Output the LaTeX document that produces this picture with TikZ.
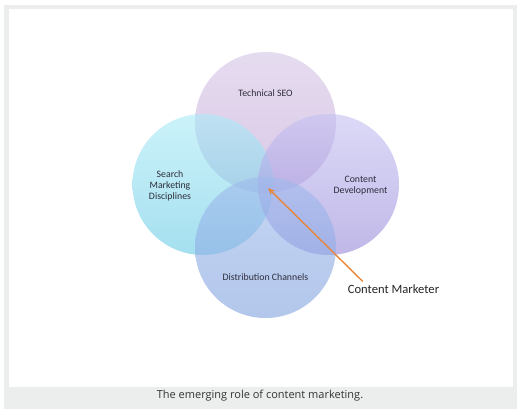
\documentclass[tikz,border=0pt]{standalone}
\usepackage{fontspec}
\setmainfont{Carlito}
\newfontfamily\capfont{Open Sans}
\usetikzlibrary{arrows.meta}

\definecolor{seotop}{RGB}{213,197,230}
\definecolor{seobot}{RGB}{192,163,213}
\definecolor{searchtop}{RGB}{170,235,247}
\definecolor{searchbot}{RGB}{105,203,229}
\definecolor{devtop}{RGB}{197,193,243}
\definecolor{devbot}{RGB}{150,137,217}
\definecolor{distop}{RGB}{160,186,237}
\definecolor{disbot}{RGB}{128,162,223}
\definecolor{framegray}{RGB}{236,238,237}
\definecolor{labelgray}{RGB}{45,45,58}
\definecolor{pointer}{RGB}{232,134,58}

\tikzset{
  circ/.style={circle, minimum size=141pt, inner sep=0pt, fill opacity=0.6},
  lbl/.style={font=\fontsize{9.8}{11}\selectfont, text=labelgray, align=center, inner sep=0pt},
  arrowline/.style={draw=pointer, line width=1.4pt, -{Stealth[length=7pt,width=6pt]}}
}

\begin{document}
\begin{tikzpicture}[x=1pt,y=-1pt]
        \useasboundingbox (0,0) rectangle (523,415);
        \fill[framegray] (4,5) rectangle (517,409);
        \fill[white] (9,9) rectangle (513,387);
        \node[circ, top color=seotop, bottom color=seobot] (seo) at (265.5,122.5) {};
        \node[circ, top color=searchtop, bottom color=searchbot] (search) at (203,184.5) {};
        \node[circ, top color=devtop, bottom color=devbot] (dev) at (328.5,184.5) {};
        \node[circ, top color=distop, bottom color=disbot] (dist) at (265.5,247.5) {};
        \node[lbl] (seotext) at (265.5,93) {Technical SEO};
        \node[lbl] (searchtext) at (170,186) {Search\\Marketing\\Disciplines};
        \node[lbl] (devtext) at (360.5,185.5) {Content\\Development};
        \node[lbl] (disttext) at (265.5,277.5) {Distribution Channels};
        \node[font=\fontsize{12.6}{14}\selectfont, text=black!85, inner sep=0pt] (marketer) at (393.5,289) {Content Marketer};
        \coordinate (hub) at (268,188);
        \draw[arrowline] ([xshift=15pt,yshift=3pt]marketer.north west) -- (hub);
        \node[font=\capfont\fontsize{11}{13}\selectfont, text=black!80] (caption) at (260,395.5) {The emerging role of content marketing.};
      \end{tikzpicture}
\end{document}
